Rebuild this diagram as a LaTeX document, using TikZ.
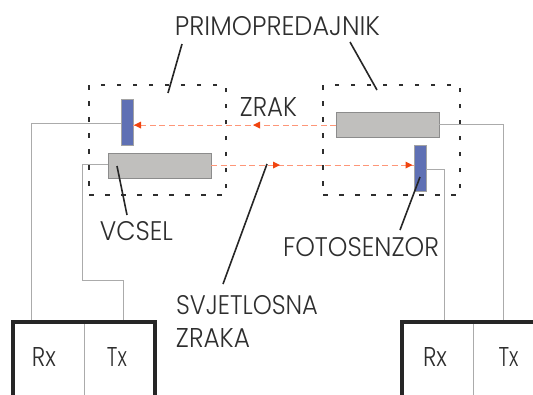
\documentclass[tikz,border=0pt]{standalone}
\usepackage{fontspec}
\setmainfont{Poppins Light}
\usetikzlibrary{arrows.meta}
\definecolor{bluebar}{HTML}{5F70B4}
\definecolor{greybar}{HTML}{C0BFBD}
\definecolor{edgegrey}{HTML}{8C8C8C}
\definecolor{wirecol}{HTML}{ABABAB}
\definecolor{salmonbeam}{RGB}{254,150,120}
\definecolor{beamhead}{RGB}{240,68,15}
\definecolor{ink}{HTML}{2E2E2E}
\newcommand{\fitw}[2]{\resizebox{#1pt}{19pt}{#2}}
\tikzset{
 x=1pt,y=-1pt,
 zone/.style={draw=ink,line width=1.6pt,dash pattern=on 4.5pt off 11.5pt,minimum width=137pt,minimum height=110pt,inner sep=0,outer sep=0},
 emitter/.style={draw=edgegrey,fill=greybar,line width=1pt,minimum width=103pt,minimum height=25pt,inner sep=0,outer sep=0},
 sensor/.style={draw=edgegrey!80,fill=bluebar,line width=0.8pt,minimum width=12pt,minimum height=46pt,inner sep=0,outer sep=0},
 wireline/.style={draw=wirecol,line width=1pt},
 frame/.style={draw=black!85,line width=3.2pt},
 leader/.style={draw=black!85,line width=1.6pt},
 beamline/.style={draw=salmonbeam,line width=1pt,dash pattern=on 6pt off 3.5pt},
 label/.style={text=ink,inner sep=0,outer sep=0,anchor=center},
}
\begin{document}
\begin{tikzpicture}
\path[use as bounding box] (0,0) rectangle (533,394);
\clip (0,0) rectangle (533,394);
% zones
\node[zone] (zl) at (157.5,140) {};
\node[zone] (zr) at (391.5,140) {};
% parts
\node[sensor] (bl) at (127,122) {};
\node[emitter] (gl) at (159.5,165.5) {};
\node[emitter] (gr) at (387.5,125) {};
\node[sensor] (br) at (420,168.5) {};
% receivers
\coordinate (flt) at (13,322);
\coordinate (flb) at (155,400);
\coordinate (frt) at (402,322);
\coordinate (frb) at (545,400);
\coordinate (dlt) at (84,322);
\coordinate (dlb) at (84,400);
\coordinate (drt) at (473,322);
\coordinate (drb) at (473,400);
\draw[wireline] (dlt) -- (dlb);
\draw[wireline] (drt) -- (drb);
\coordinate (p1) at (31,322);
\coordinate (p2) at (123,322);
\coordinate (p3) at (444,322);
\coordinate (p4) at (503,322);
\coordinate (k1) at (31,123);
\coordinate (k2a) at (82,164);
\coordinate (k2b) at (82,280);
\coordinate (k2c) at (123,280);
\coordinate (k3a) at (444,169);
\coordinate (k4a) at (503,124);
\draw[wireline] (bl.west |- k1) -- (k1) -- (p1);
\draw[wireline] (gl.west |- k2a) -- (k2a) -- (k2b) -- (k2c) -- (p2);
\draw[wireline] (br.east |- k3a) -- (k3a) -- (p3);
\draw[wireline] (gr.east |- k4a) -- (k4a) -- (p4);
\draw[frame] (flb) -- (flb |- flt) -- (flt) -- (flt |- flb);
\draw[frame] (frb) -- (frb |- frt) -- (frt) -- (frt |- frb);
% rays
\coordinate (r1) at (253,125);
\coordinate (r2) at (280,165);
\draw[beamline] (gr.west |- r1) -- (bl.east |- r1);
\draw[beamline] (gl.east |- r2) -- (br.west |- r2);
\fill[beamhead] (134,125) -- (141,121.5) -- (141,128.5) -- cycle;
\fill[beamhead] (r1) -- ++(7,-3.5) -- ++(0,7) -- cycle;
\fill[beamhead] (r2) -- ++(-7,-3.5) -- ++(0,7) -- cycle;
\fill[beamhead] (412.5,165) -- ++(-7,-3.5) -- ++(0,7) -- cycle;
% labels
\node[label,anchor=base] (tp) at (277.5,35) {\fitw{205}{PRIMOPREDAJNIK}};
\node[label,anchor=base] (tz) at (268.5,116) {\fitw{57}{ZRAK}};
\node[label,anchor=base] (tv) at (136.5,240) {\fitw{73}{VCSEL}};
\node[label,anchor=base] (tf) at (361,256) {\fitw{156}{FOTOSENZOR}};
\node[label,anchor=base] (ts) at (247,314) {\fitw{142}{SVJETLOSNA}};
\node[label,anchor=base] (tk) at (213,347) {\fitw{74}{ZRAKA}};
\node[label,anchor=base] (rl) at (44,366) {\fitw{24}{Rx}};
\node[label,anchor=base] (tl) at (117,366) {\fitw{20}{Tx}};
\node[label,anchor=base] (rr) at (435,366) {\fitw{24}{Rx}};
\node[label,anchor=base] (tr) at (508.5,366) {\fitw{20}{Tx}};
% leaders
\coordinate (a1) at (182,44);
\coordinate (a2) at (168,93);
\coordinate (b1) at (350,42);
\coordinate (b2) at (377,90);
\coordinate (c1) at (117,166);
\coordinate (c2) at (127,215);
\coordinate (d1) at (267,164);
\coordinate (d2) at (223,284);
\coordinate (e1) at (420,177);
\coordinate (e2) at (400,230);
\draw[leader] (a1) -- (a2);
\draw[leader] (b1) -- (b2);
\draw[leader] (c1) -- (c2);
\draw[leader] (d1) -- (d2);
\draw[leader] (e1) -- (e2);
\end{tikzpicture}
\end{document}
